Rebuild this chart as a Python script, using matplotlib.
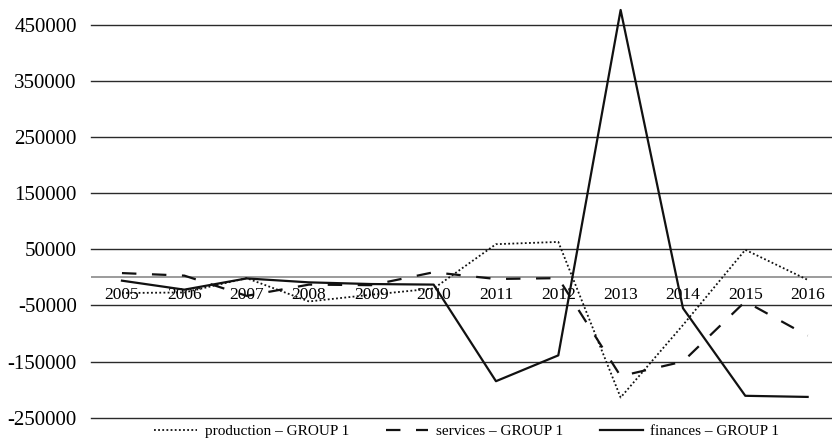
import matplotlib.pyplot as plt
import numpy as np

plt.rcParams['font.family'] = ['Liberation Serif', 'DejaVu Serif']

years = ['2005', '2006', '2007', '2008', '2009', '2010',
         '2011', '2012', '2013', '2014', '2015', '2016']
production = [-28000, -27000, -1500, -43000, -31000, -20000,
              59000, 63000, -214000, -85000, 49000, -4500]
services = [7500, 3000, -33000, -13000, -14000, 9000,
            -3000, -1500, -176000, -150000, -43000, -104000]
finances = [-6000, -22000, -2000, -9000, -12000, -13000,
            -185000, -139000, 476000, -55000, -211000, -213000]
yticks = [450000, 350000, 250000, 150000, 50000, -50000, -150000, -250000]

fig = plt.figure(figsize=(8.32, 4.43), dpi=100)
ax = fig.add_axes([90.8 / 832, 25.3 / 443, 748 / 832, 417.7 / 443])

x = np.arange(len(years))
for v in yticks:
    ax.axhline(v, color='#2a2a2a', lw=1.0, zorder=1, clip_on=False)
ax.axhline(0, color='#8a8a8a', lw=1.2, zorder=1)

ax.plot(x, production, color='#111111', lw=1.3, linestyle=(0, (1, 1.3)),
        label='production – GROUP 1', zorder=3)
ax.plot(x, services, color='#111111', lw=1.6, dashes=(6.5, 7),
        label='services – GROUP 1', zorder=3)
ax.plot(x, finances, color='#111111', lw=1.6,
        label='finances – GROUP 1', zorder=3)

ax.set_xlim(-0.5, 11.5)
ax.set_ylim(-250000, 493800)
ax.set_yticks(yticks)
ax.set_yticklabels([str(v) for v in yticks], fontsize=15)
ax.tick_params(axis='y', length=0, pad=10)

# year labels sit just under the zero line
ax.set_xticks([])
for i, yr in enumerate(years):
    ax.annotate(yr, (i, 0), xytext=(0, -7), textcoords='offset points',
                ha='center', va='top', fontsize=12.5, zorder=2)

for s in ax.spines.values():
    s.set_visible(False)

fig.legend(loc='lower center', bbox_to_anchor=(0.561, -0.02), ncol=3,
           frameon=False, fontsize=11, handlelength=2.8, columnspacing=2.4,
           handletextpad=0.5)

fig.savefig('out.png', dpi=100)
